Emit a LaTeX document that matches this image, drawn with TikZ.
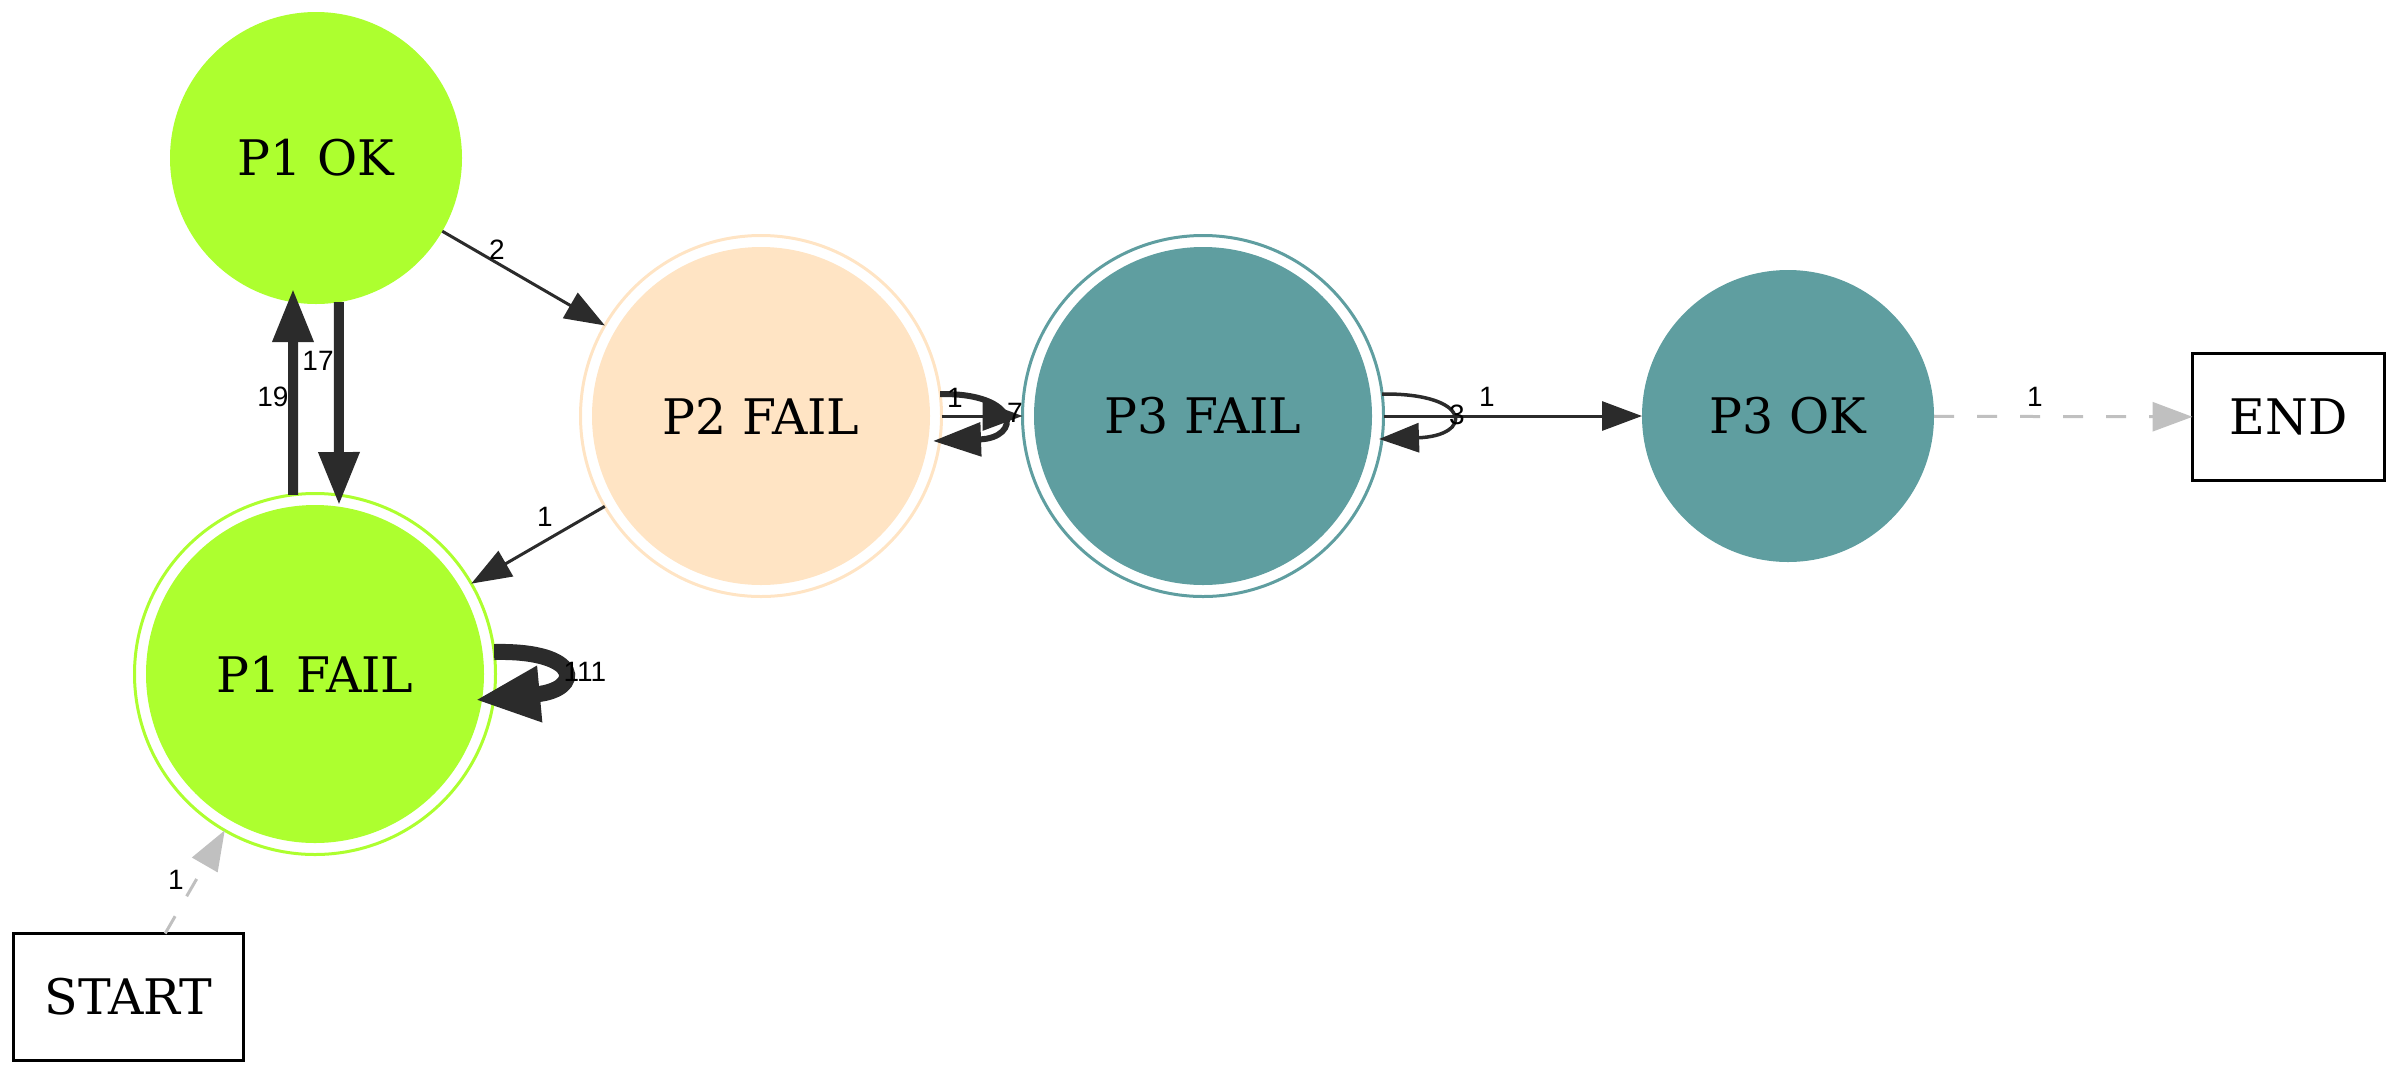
\documentclass[tikz,border=0pt]{standalone}
\usepackage{fontspec}
\setmainfont{DejaVu Serif}
\newfontfamily\lblfont{Liberation Sans}
\usetikzlibrary{arrows.meta,calc}
\definecolor{gy}{HTML}{ADFF2F}
\definecolor{bq}{HTML}{FFE4C4}
\definecolor{cb}{HTML}{5F9EA0}
\definecolor{ed}{HTML}{2B2B2B}
\definecolor{dg}{HTML}{C0C0C0}
\begin{document}
\begin{tikzpicture}[x=1pt,y=1pt,
  nodefont/.style={font=\fontsize{49}{58}\selectfont},
  solidstate/.style={circle, fill=#1, minimum size=292pt, inner sep=0pt, outer sep=0pt, nodefont},
  ringstate/.style={circle, draw=#1, line width=3pt, minimum size=361pt, inner sep=0pt, outer sep=0pt, nodefont,
     path picture={\fill[#1] (path picture bounding box.center) circle (169pt);}},
  term/.style={rectangle, draw=black, line width=3pt, inner sep=0pt, outer sep=0pt, nodefont},
  lbl/.style={font=\lblfont\fontsize{28}{32}\selectfont, inner sep=0pt},
  thinedge/.style={draw=ed, line width=3pt, -{Triangle[length=40pt,width=29pt]}},
  midedge/.style={draw=ed, line width=6pt, -{Triangle[length=48pt,width=33pt]}},
  thickedge/.style={draw=ed, line width=10pt, -{Triangle[length=53pt,width=39pt]}},
  hugeedge/.style={draw=ed, line width=16pt, -{Triangle[length=65pt,width=52pt]}},
  greyedge/.style={draw=dg, line width=3pt, dash pattern=on 20pt off 23pt, -{Triangle[length=40pt,width=29pt]}},
]
\useasboundingbox (0,0) rectangle (2400,-1077);

% nodes
\node[solidstate=gy] (p1ok) at (316,-158) {P1 OK};
\node[ringstate=gy] (p1f) at (315,-674) {P1 FAIL};
\node[ringstate=bq] (p2f) at (761,-416) {P2 FAIL};
\node[ringstate=cb] (p3f) at (1203,-416) {P3 FAIL};
\node[solidstate=cb] (p3ok) at (1788,-416) {P3 OK};
\node[term, minimum width=230pt, minimum height=127pt] (start) at (128.5,-997) {START};
\node[term, minimum width=192pt, minimum height=127pt] (end) at (2288.5,-417) {END};

% edges
\draw[thinedge] (p1ok) -- (p2f);
\draw[thinedge] (p2f) -- (p1f);
\draw[thickedge] (p1f.97) -- ($(p1ok.center)+(-23,-131)$);
\draw[thickedge] (p1ok.-81.3) -- ($(p1f.center)+(24,169)$);
\draw[hugeedge] (p1f.7) .. controls ($(p1f.center)+(268,24)$) and ($(p1f.center)+(268,-16)$) .. ($(p1f.center)+(160,-26)$);
\draw[thinedge] (p2f) -- (p3f);
\draw[midedge] (p2f.7) .. controls ($(p2f.center)+(260,23)$) and ($(p2f.center)+(260,-22)$) .. ($(p2f.center)+(172,-25)$);
\draw[thinedge, line width=3.5pt] (p3f.7) .. controls ($(p3f.center)+(270,23)$) and ($(p3f.center)+(270,-20)$) .. ($(p3f.center)+(176,-23)$);
\draw[thinedge] (p3f) -- (p3ok);
\draw[greyedge] (p3ok) -- (end);
\draw[greyedge] (start) -- (p1f);

% labels
\node[lbl] (l2) at (497,-250) {2};
\node[lbl] (l19) at (273,-397) {19};
\node[lbl] (l17) at (318,-361) {17};
\node[lbl] (l21) at (545,-517) {1};
\node[lbl] (l111) at (585,-672) {111};
\node[lbl] (ls) at (176,-880) {1};
\node[lbl] (l23) at (955,-398) {1};
\node[lbl] (l22) at (1015,-413) {7};
\node[lbl] (l33) at (1457,-415) {3};
\node[lbl] (l34) at (1487,-397) {1};
\node[lbl] (le) at (2035,-397) {1};
\end{tikzpicture}
\end{document}
